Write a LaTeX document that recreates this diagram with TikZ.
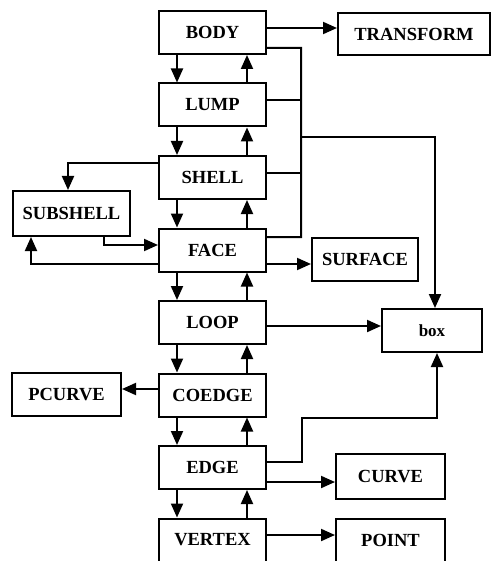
\documentclass[tikz,border=0pt]{standalone}
\usepackage{fontspec}
\setmainfont{Liberation Serif}
\usetikzlibrary{arrows.meta, positioning, calc}

\begin{document}
\begin{tikzpicture}[
        x=1bp, y=-1bp,
        node distance=27.5bp and 2cm,
        font=\fontsize{18.5bp}{20bp}\selectfont\bfseries,
        entity_box/.style={
            rectangle,
            draw=black,
            line width=2bp,
            inner sep=0pt,
            align=center,
            minimum width=107bp,
            minimum height=43bp
        },
        link/.style={
            draw=black,
            line width=2bp
        },
        arrow/.style={
            link,
            -{Triangle[length=14bp, width=12bp]}
        }
    ]

    % Page frame (bottom row is cut off in the original)
    \fill[white] (0,0) rectangle (493,561);
    \useasboundingbox (0,0) rectangle (493,561);
    \clip (0,0) rectangle (493,561);

    % Main topology column
    \node[entity_box] (body) at (212.5, 32.5) {BODY};
    \node[entity_box, below=of body] (lump) {LUMP};
    \node[entity_box, below=of lump] (shell) {SHELL};
    \node[entity_box, below=of shell] (face) {FACE};
    \node[entity_box, below=of face] (loop) {LOOP};
    \node[entity_box, below=of loop] (coedge) {COEDGE};
    \node[entity_box, below=of coedge] (edge) {EDGE};
    \node[entity_box, below=of edge] (vertex) {VERTEX};

    % Geometry and helper boxes
    \node[entity_box, minimum width=152bp, minimum height=42bp] (transform) at (414, 34) {TRANSFORM};
    \node[entity_box, minimum width=117bp, minimum height=45bp] (subshell) at (71.5, 213.5) {SUBSHELL};
    \node[entity_box, minimum width=106bp] (surface) at (365, 259.5) {SURFACE};
    \node[entity_box, minimum width=100bp] (box) at (432, 330.5) {\fontsize{17bp}{20bp}\selectfont box};
    \node[entity_box, minimum width=109bp] (pcurve) at (66.5, 394.5) {PCURVE};
    \node[entity_box, minimum width=109bp, minimum height=45bp] (curve) at (390.5, 476.5) {CURVE};
    \node[entity_box, minimum width=109bp] (point) at (390.5, 540) {POINT};

    % Down and up links along the column
    \foreach \upper/\lower in {body/lump, lump/shell, shell/face, face/loop, loop/coedge, coedge/edge, edge/vertex} {
        \draw[arrow] ([xshift=19bp]\upper.south west) -- ([xshift=19bp]\lower.north west);
        \draw[arrow] ([xshift=-20bp]\lower.north east) -- ([xshift=-20bp]\upper.south east);
    }

    % Bus on the right of BODY .. FACE, feeding the box
    \coordinate (bus_top) at (301, 48);
    \coordinate (bus_box) at (301, 137);
    \draw[link] ([yshift=-15.5bp]body.east) -- (bus_top) -- (bus_top |- face.north)
        |- ([yshift=13bp]face.east);
    \draw[link] ([yshift=5bp]lump.east) -- ([yshift=5bp]lump.east -| bus_top);
    \draw[link] ([yshift=4.5bp]shell.east) -- ([yshift=4.5bp]shell.east -| bus_top);
    \draw[arrow] (bus_box) -| ([xshift=3bp]box.north);

    % Right-hand references
    \draw[arrow] ([yshift=4.5bp]body.east) -- ([yshift=4.5bp]body.east -| transform.west);
    \draw[arrow] ([yshift=-14bp]face.east) -- ([yshift=-14bp]face.east -| surface.west);
    \draw[arrow] ([yshift=-3.5bp]loop.east) -- ([yshift=-3.5bp]loop.east -| box.west);
    \draw[arrow] ([yshift=5.5bp]edge.east) -- ++(35, 0) |- ([xshift=5bp]box.south |- coedge.south)
        -- ([xshift=5bp]box.south);
    \draw[arrow] ([yshift=-14.5bp]edge.east) -- ([yshift=-14.5bp]edge.east -| curve.west);
    \draw[arrow] ([yshift=5bp]vertex.east) -- ([yshift=5bp]vertex.east -| point.west);

    % Left-hand references
    \draw[arrow] ([yshift=14.5bp]shell.west) -| ([xshift=-3.5bp]subshell.north);
    \draw[arrow] ([xshift=32.5bp]subshell.south) |- ([yshift=5bp]face.west);
    \draw[arrow] ([yshift=-14bp]face.west) -| ([xshift=-40.5bp]subshell.south);
    \draw[arrow] ([yshift=6bp]coedge.west) -- ([yshift=6bp]coedge.west -| pcurve.east);

\end{tikzpicture}
\end{document}
